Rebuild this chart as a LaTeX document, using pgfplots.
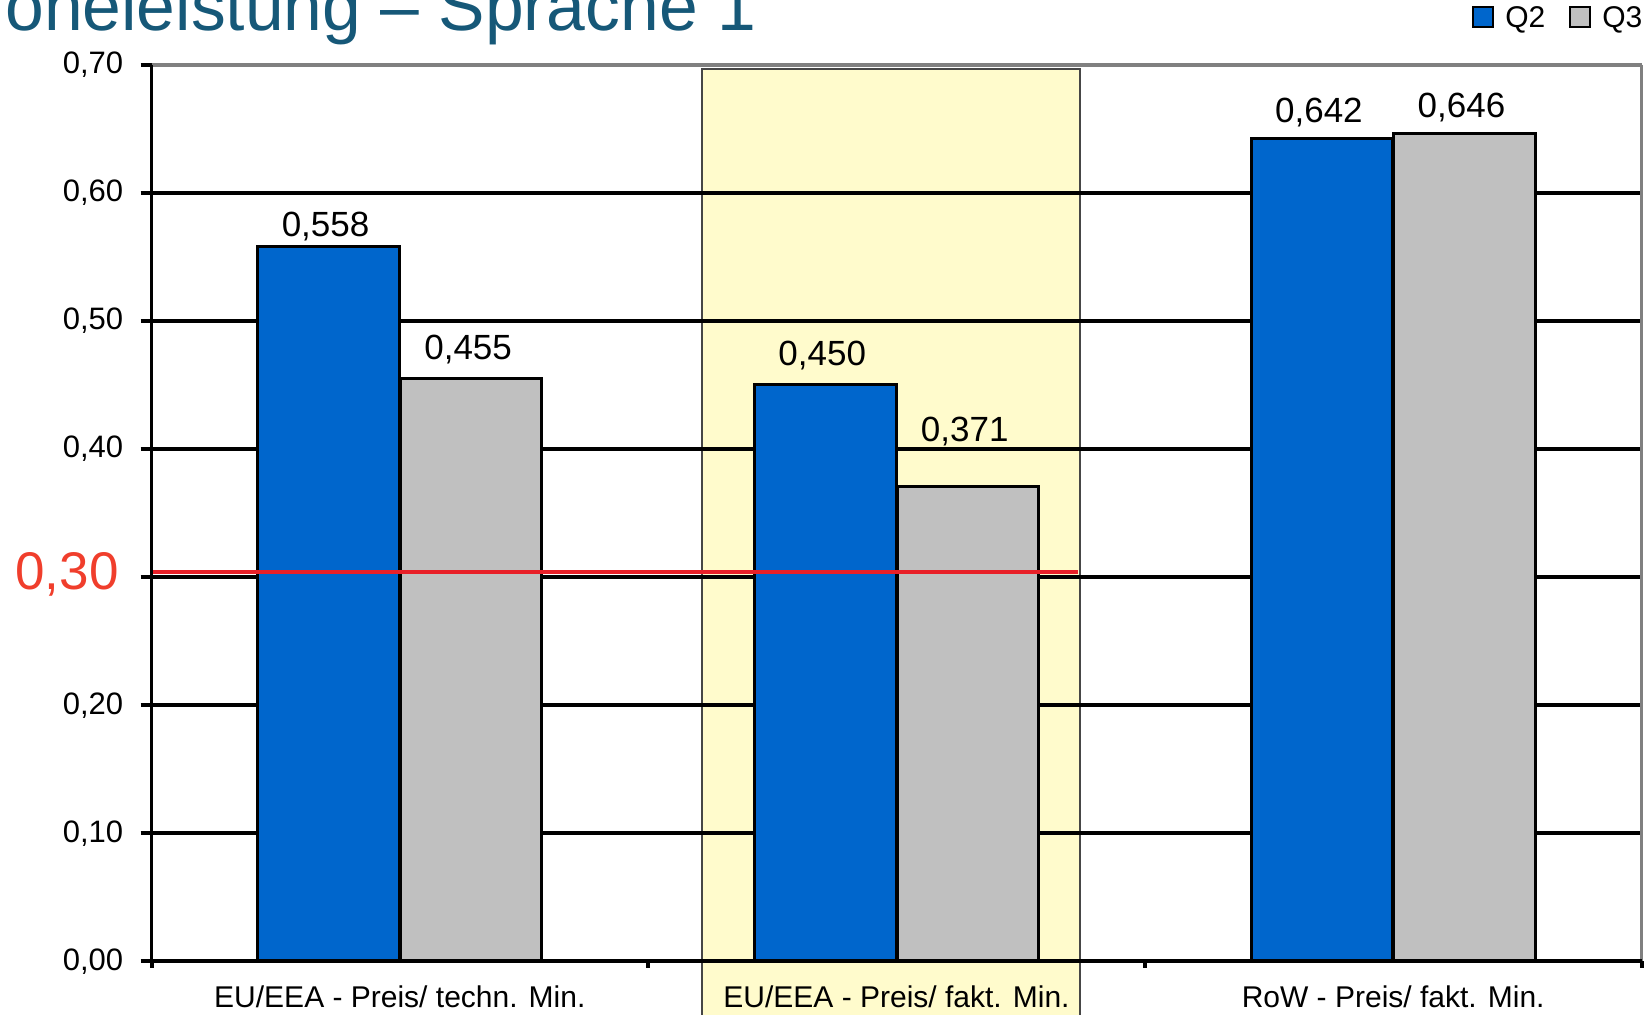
\documentclass[border=0pt]{standalone}
\usepackage{fontspec}
\setmainfont{Liberation Sans}
\usepackage{pgfplots}
\usepackage{pgfplotstable}
\pgfplotsset{compat=1.18}
\definecolor{qblue}{RGB}{0,102,204}
\definecolor{qgray}{RGB}{192,192,192}
\definecolor{titleteal}{RGB}{22,88,120}
\definecolor{refred}{RGB}{232,32,40}
\definecolor{labred}{RGB}{240,62,44}
\definecolor{bandyellow}{RGB}{255,251,204}
\definecolor{bandborder}{RGB}{70,70,70}
\definecolor{spinegray}{RGB}{128,128,128}

% values, and the gap (pt) between each bar and its label
\pgfplotstableread{
x q2 q3 q2off q3off
0 0.558 0.455 5.0 9.3
1 0.450 0.371 9.5 22.5
2 0.642 0.646 8.0 8.0
}\datatable

\begin{document}
\begin{tikzpicture}
\node[anchor=base west, inner sep=0pt, font=\fontsize{34.8}{40}\selectfont, text=titleteal] at (-73.25pt,465.25pt) {oneleistung – Sprache 1};
\begin{axis}[
  set layers,
  at={(0pt,0pt)}, anchor=south west,
  scale only axis, width=745pt, height=448.4pt,
  xmin=-0.5, xmax=2.5, ymin=0, ymax=0.7,
  clip=false,
  axis line style={draw=none},
  tick pos=left, tick align=outside,
  ytick={0,0.1,0.2,0.3,0.4,0.5,0.6,0.7},
  yticklabels={{0,00},{0,10},{0,20},{},{0,40},{0,50},{0,60},{0,70}},
  xtick={-0.5,0.5,1.5,2.5}, xticklabels={},
  major tick length=5.5pt,
  xtick style={/pgfplots/major tick length=3.25pt},
  tick style={black, line width=2pt},
  ymajorgrids, grid style={black, line width=2pt},
  yticklabel style={font=\fontsize{15.5}{17}\selectfont, inner sep=0pt, anchor=east, xshift=-8.5pt},
  legend columns=2,
  legend style={draw=none, fill=none, inner sep=0pt, at={(0.8862,1.0518)}, anchor=west,
    font=\fontsize{15}{17}\selectfont, nodes={inner sep=0pt},
    /tikz/every odd column/.append style={column sep=5.5pt},
    /tikz/every even column/.append style={column sep=12pt}},
  legend image code/.code={\draw[#1, draw=black, line width=1pt] (0pt,-4.2pt) rectangle (10pt,5.8pt);},
  vlabels/.style={
    forget plot, draw=none, mark=none,
    nodes near coords={\pgfmathprintnumber[fixed, fixed zerofill, precision=3, use comma, assume math mode=true]{\pgfplotspointmeta}},
    every node near coord/.append style={font=\fontsize{17.5}{20}\selectfont, anchor=base, inner sep=0pt, xshift=-1.5pt, text=black}},
]
\addplot[forget plot, on layer=axis background, fill=bandyellow, draw=bandborder, line width=1pt] coordinates {(0.608,-0.09) (0.608,0.697) (1.369,0.697) (1.369,-0.09) (0.608,-0.09)};
\addplot[ybar, bar width=0.285, bar shift=-0.1435, fill=qblue, draw=black, line width=1.5pt] table[x=x, y=q2] {\datatable};
\addplot[ybar, bar width=0.285, bar shift=0.1435, fill=qgray, draw=black, line width=1.5pt] table[x=x, y=q3] {\datatable};
\legend{Q2,Q3}
% value labels: 1pt = 0.7/448.4 axis units
\addplot[vlabels, point meta=\thisrow{q2}] table[x expr=\thisrow{x}-0.1435, y expr=\thisrow{q2}+\thisrow{q2off}*0.0015611] {\datatable};
\addplot[vlabels, point meta=\thisrow{q3}] table[x expr=\thisrow{x}+0.1435, y expr=\thisrow{q3}+\thisrow{q3off}*0.0015611] {\datatable};
\draw[refred, line width=2.25pt] (axis cs:-0.5,0.304) -- (axis cs:1.365,0.304);
\draw[spinegray, line width=2pt] (rel axis cs:0,1) -- (rel axis cs:1,1);
\draw[spinegray, line width=1.75pt] (rel axis cs:1,1) -- (rel axis cs:1,0);
\draw[black, line width=1.5pt] (rel axis cs:0,0) -- (rel axis cs:0,1);
\draw[black, line width=2pt] (rel axis cs:0,0) -- (rel axis cs:1,0);
\node[anchor=base east, inner sep=0pt, text=labred, font=\fontsize{26.5}{30}\selectfont] at (axis cs:-0.5,0.29) [xshift=-16.25pt] {0,30};
\node[anchor=base, inner sep=0pt, font=\fontsize{15}{18}\selectfont] at (axis cs:0,0) [yshift=-23.25pt] {EU/EEA - Preis/ techn. Min.};
\node[anchor=base, inner sep=0pt, font=\fontsize{15}{18}\selectfont] at (axis cs:1,0) [yshift=-23.25pt] {EU/EEA - Preis/ fakt. Min.};
\node[anchor=base, inner sep=0pt, font=\fontsize{15}{18}\selectfont] at (axis cs:2,0) [yshift=-23.25pt] {RoW - Preis/ fakt. Min.};
\end{axis}
\pgfresetboundingbox
\useasboundingbox (-75.75pt,-26.75pt) rectangle (750.25pt,480.75pt);
\end{tikzpicture}
\end{document}
